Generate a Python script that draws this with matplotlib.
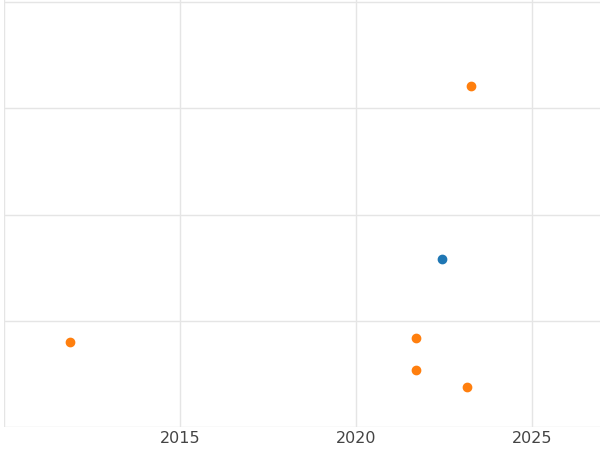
import matplotlib
matplotlib.use("Agg")
import matplotlib.pyplot as plt

blue_x = [2022.44]
blue_y = [1.58]
orange_x = [2023.27, 2011.88, 2021.70, 2021.70, 2023.16]
orange_y = [3.21, 0.80, 0.84, 0.535, 0.375]
xticks = [2015, 2020, 2025]

fig = plt.figure(figsize=(6, 4.5), dpi=100)
ax = fig.add_axes([4/600, 23/450, 596/600, 427/450])
ax.scatter(blue_x, blue_y, color="#1f77b4", s=36, zorder=3)
ax.scatter(orange_x, orange_y, color="#ff7f0e", s=36, zorder=3)
ax.set_xlim(2010, 2026.93)
ax.set_ylim(0, 4.02)
ax.set_xticks([2010] + xticks)
ax.set_xticklabels([""] + [str(t) for t in xticks])
ax.set_yticks([0, 1, 2, 3, 4])
ax.set_yticklabels([])
ax.grid(True, color="#e5e5e5", linewidth=1)
ax.set_axisbelow(True)
for s in ax.spines.values():
    s.set_visible(False)
ax.tick_params(length=0, labelsize=11.5, labelcolor="#444444", pad=3)
fig.savefig("out.png", dpi=100)
